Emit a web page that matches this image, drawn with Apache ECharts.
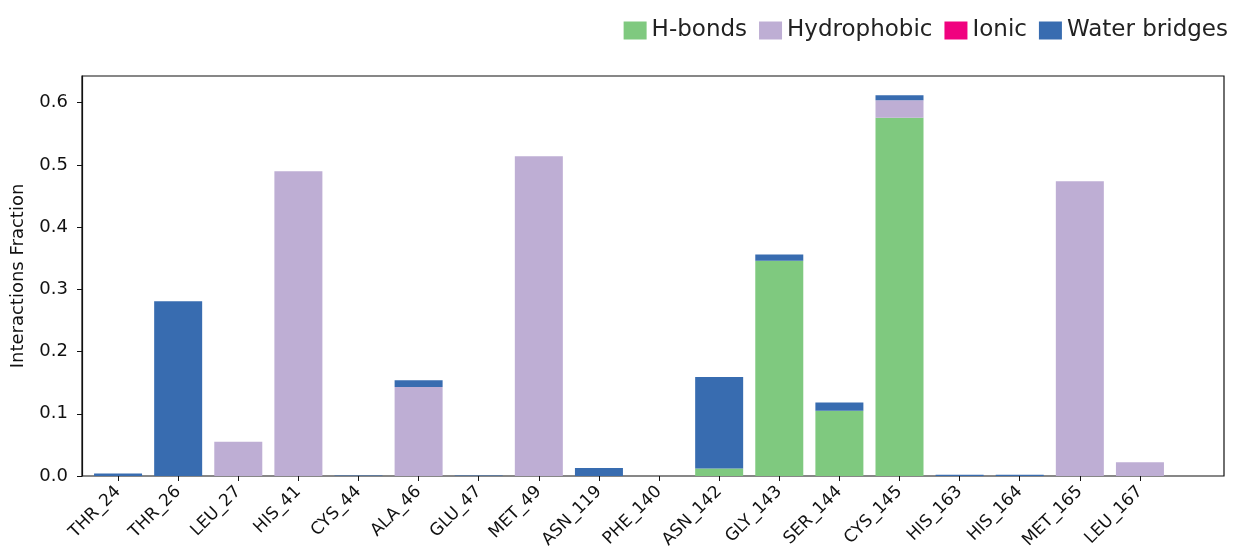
<!DOCTYPE html>
<html>
<head>
  <meta charset="UTF-8">
  <title>interactions fraction</title>
  <style>
    body { margin: 0; background: #fff; }
    #chart { width: 1239px; height: 550px; }
  </style>
  <script src="https://cdn.jsdelivr.net/npm/echarts@6.0.0/dist/echarts.min.js"></script>
</head>
<body>
<div id="chart"></div>
<script>
// residues along the x axis
var residues = ['THR_24', 'THR_26', 'LEU_27', 'HIS_41', 'CYS_44', 'ALA_46', 'GLU_47', 'MET_49', 'ASN_119',
  'PHE_140', 'ASN_142', 'GLY_143', 'SER_144', 'CYS_145', 'HIS_163', 'HIS_164', 'MET_165', 'LEU_167'];

// stacked fractions, one value per residue
var hbonds      = [0, 0, 0, 0, 0, 0, 0, 0, 0, 0, 0.012, 0.346, 0.105, 0.576, 0, 0, 0, 0];
var hydrophobic = [0, 0, 0.055, 0.490, 0, 0.143, 0, 0.514, 0, 0, 0, 0, 0, 0.028, 0, 0, 0.474, 0.022];
var ionic       = [0, 0, 0, 0, 0, 0, 0, 0, 0, 0, 0, 0, 0, 0, 0, 0, 0, 0];
var water       = [0.004, 0.281, 0, 0, 0.001, 0.011, 0.001, 0, 0.013, 0, 0.147, 0.010, 0.013, 0.008, 0.002, 0.002, 0, 0];

var yMax = 0.643;

var font = 'DejaVu Sans';
var ink = '#111';
var myChart = echarts.init(document.getElementById('chart'));

function barSeries(name, arr, color) {
  return {
    type: 'bar',
    name: name,
    stack: 'all',
    xAxisIndex: 0,
    yAxisIndex: 0,
    data: arr,
    barWidth: 48,
    itemStyle: { color: color },
    emphasis: { disabled: true }
  };
}

var option = {
  animation: false,
  textStyle: { fontFamily: font },
  legend: {
    right: 6,
    top: 14,
    itemWidth: 23,
    itemHeight: 18,
    itemGap: 12,
    icon: 'rect',
    textStyle: { fontSize: 23, fontFamily: font, color: '#222' },
    data: ['H-bonds', 'Hydrophobic', 'Ionic', 'Water bridges']
  },
  // grid 0 holds the bars, grid 1 is the frame with the y axis
  grid: [
    { left: 88, right: 69, top: 76, bottom: 74, outerBoundsMode: 'none', containLabel: false },
    { left: 82, right: 15, top: 76, bottom: 74, outerBoundsMode: 'none', containLabel: false,
      show: true, borderColor: ink, borderWidth: 1.2 }
  ],
  xAxis: [
    {
      type: 'category',
      gridIndex: 0,
      data: residues,
      axisLine: { show: false },
      axisTick: { show: true, alignWithLabel: true, interval: 0, length: 5, lineStyle: { color: ink } },
      axisLabel: {
        interval: 0,
        rotate: 45,
        margin: 13,
        fontSize: 17,
        fontFamily: font,
        color: ink
      }
    },
    { type: 'value', gridIndex: 1, show: false, min: 0, max: 1 }
  ],
  yAxis: [
    { type: 'value', gridIndex: 0, show: false, min: 0, max: yMax },
    {
      type: 'value',
      gridIndex: 1,
      min: 0,
      max: yMax,
      interval: 0.1,
      name: 'Interactions Fraction',
      nameLocation: 'middle',
      nameRotate: 90,
      nameGap: 55,
      nameTextStyle: { fontSize: 18, fontFamily: font, color: ink },
      splitLine: { show: false },
      axisLine: { show: true, lineStyle: { color: ink, width: 1.2 } },
      axisTick: { show: true, length: 5, lineStyle: { color: ink } },
      axisLabel: {
        margin: 14,
        fontSize: 18,
        fontFamily: font,
        color: ink,
        showMaxLabel: false,
        formatter: function (v) { return v.toFixed(1); }
      }
    }
  ],
  series: [
    barSeries('H-bonds', hbonds, '#7fc97f'),
    barSeries('Hydrophobic', hydrophobic, '#beaed4'),
    barSeries('Ionic', ionic, '#f0027f'),
    barSeries('Water bridges', water, '#386cb0')
  ]
};
myChart.setOption(option);
</script>
</body>
</html>
